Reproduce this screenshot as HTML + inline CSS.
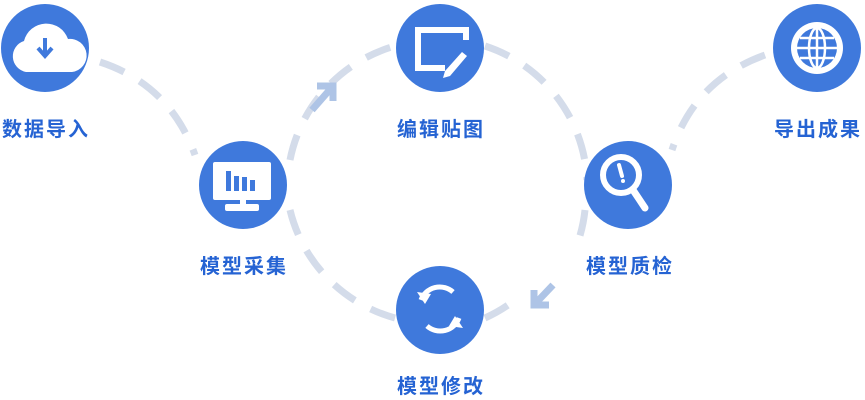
<!DOCTYPE html>
<html><head><meta charset="utf-8"><style>
html,body{margin:0;padding:0;background:#fff;}
.w{position:relative;width:865px;height:400px;overflow:hidden;}
svg{position:absolute;left:0;top:0;}
.t{position:absolute;font-family:"Liberation Sans","Noto Sans CJK SC",sans-serif;font-size:20px;font-weight:bold;color:#2563d3;letter-spacing:2px;white-space:nowrap;transform:translateX(-50%);}
</style></head><body><div class="w">
<svg width="865" height="400" viewBox="0 0 865 400">
<g fill="none" stroke="#d4dcea" stroke-width="7" stroke-dasharray="26 18">
<path d="M100 62 Q170 85 195 155"/>
<path d="M765 55 Q695 80 672 150"/>
<path d="M290 160 A148 148 0 0 1 395 46"/>
<path d="M485 46 A148 148 0 0 1 587 180"/>
<path d="M585 210 A148 148 0 0 1 575 250"/>
<path d="M290 210 A148 148 0 0 0 395 318"/>
<path d="M485 318 A148 148 0 0 0 515 300"/>
</g>
<g fill="none" stroke="#aec4e6" stroke-width="7" stroke-linecap="butt">
<path d="M317 86 L333 86 L333 101"/><path d="M333 86 L312 110"/>
<path d="M534 290 L534 305 L549 305"/><path d="M534 305 L553 285"/>
</g>
<g fill="#3f79dc">
<circle cx="45" cy="48" r="44"/><circle cx="243" cy="185" r="44"/>
<circle cx="440" cy="48" r="44"/><circle cx="628" cy="185" r="44"/>
<circle cx="817" cy="48" r="44"/><circle cx="440" cy="310" r="44"/>
</g>
<!-- cloud -->
<path d="M26 72 a16 16 0 0 1 -2 -31 a23 23 0 0 1 44 -2 a16 16 0 0 1 4 33 z" fill="#fff"/>
<path d="M45 38 v16 M38 48 l7 8 l7 -8" stroke="#3f79dc" stroke-width="4" fill="none"/>
<!-- monitor -->
<rect x="213" y="162" width="58" height="38" rx="2" fill="#fff"/>
<rect x="226" y="171" width="5" height="20" fill="#3f79dc"/><rect x="234" y="176" width="5" height="15" fill="#3f79dc"/><rect x="242" y="177" width="5" height="14" fill="#3f79dc"/><rect x="250" y="180" width="5" height="11" fill="#3f79dc"/>
<rect x="240" y="200" width="6" height="6" fill="#fff"/><rect x="225" y="204" width="34" height="7" rx="2" fill="#fff"/>
<!-- edit -->
<path d="M466 40 V30 H418 V68 H445" stroke="#fff" stroke-width="6" fill="none"/>
<path d="M462 52 l5 4 l-17 20 l-7 2 l2 -7 z" fill="#fff"/>
<!-- magnifier -->
<circle cx="621" cy="175" r="18" fill="none" stroke="#fff" stroke-width="6"/>
<path d="M633 190 l12 18" stroke="#fff" stroke-width="7" stroke-linecap="round"/>
<path d="M619 165 l3 11" stroke="#fff" stroke-width="4" stroke-linecap="round"/><circle cx="623" cy="181" r="2" fill="#fff"/>
<!-- globe -->
<circle cx="817" cy="48" r="26" fill="#fff"/><circle cx="817" cy="48" r="20" fill="#3f79dc"/>
<g stroke="#fff" stroke-width="2.5" fill="none"><ellipse cx="817" cy="48" rx="8" ry="20"/><path d="M817 28v40M797 48h40M800 38h34M800 58h34"/></g>
<!-- refresh -->
<g stroke="#fff" stroke-width="5" fill="none"><path d="M421 300 a20 20 0 0 1 32 -8"/><path d="M459 318 a20 20 0 0 1 -32 8"/></g>
<path d="M417 292 l8 12 l6 -10 z M463 328 l-8 -12 l-6 10 z" fill="#fff"/>
</svg>
<div class="t" style="left:46px;top:113px">数据导入</div>
<div class="t" style="left:244px;top:250px">模型采集</div>
<div class="t" style="left:441px;top:113px">编辑贴图</div>
<div class="t" style="left:630px;top:250px">模型质检</div>
<div class="t" style="left:818px;top:113px">导出成果</div>
<div class="t" style="left:441px;top:370px">模型修改</div>
</div></body></html>
